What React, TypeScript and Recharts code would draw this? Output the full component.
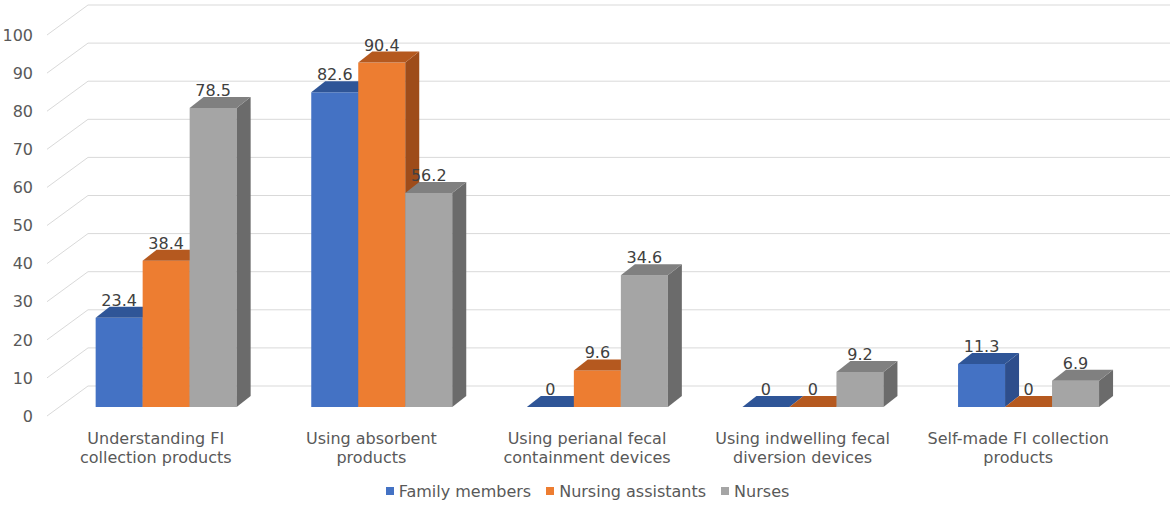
import React from 'react';
import { BarChart, Bar, XAxis, YAxis, CartesianGrid, Legend, LabelList } from 'recharts';

const categories = [
  'Understanding FI collection products',
  'Using absorbent products',
  'Using perianal fecal containment devices',
  'Using indwelling fecal diversion devices',
  'Self-made FI collection products',
];
const categoryLines = [
  ['Understanding FI', 'collection products'],
  ['Using absorbent', 'products'],
  ['Using perianal fecal', 'containment devices'],
  ['Using indwelling fecal', 'diversion devices'],
  ['Self-made FI collection', 'products'],
];
const seriesNames = ['Family members', 'Nursing assistants', 'Nurses'];
const familyMembers = [23.4, 82.6, 0, 0, 11.3];
const nursingAssistants = [38.4, 90.4, 9.6, 0, 0];
const nurses = [78.5, 56.2, 34.6, 9.2, 6.9];
const yTicks = [0, 10, 20, 30, 40, 50, 60, 70, 80, 90, 100];

const data = categories.map((name, i) => ({
  name,
  family: familyMembers[i],
  assistants: nursingAssistants[i],
  nurses: nurses[i],
}));

const FONT = '"DejaVu Sans", sans-serif';
const TEXT = '#595959';
const COLORS = ['#4472C4', '#ED7D31', '#A5A5A5'];
const DX = 14; // depth of bars
const DY = -11;

// 3D box: front face, top face, right side
const makeShape = (top: string, side: string) => (props: any) => {
  const { x, y, width, height, fill } = props;
  if (x == null || y == null) return <g />;
  const h = Math.max(0, height || 0);
  return (
    <g>
      <rect x={x} y={y} width={width} height={h} fill={fill} />
      <polygon
        points={`${x + width},${y} ${x + width + DX},${y + DY} ${x + width + DX},${y + h + DY} ${x + width},${y + h}`}
        fill={side}
      />
      <polygon
        points={`${x},${y} ${x + DX},${y + DY} ${x + width + DX},${y + DY} ${x + width},${y}`}
        fill={top}
      />
    </g>
  );
};

// back-wall gridline + diagonal on the left side wall
const gridLine = (props: any) => {
  const { x1, y1, key } = props;
  const frontX = x1 - 12;
  const backX = x1 + 29;
  return (
    <g key={key}>
      <line x1={frontX} y1={y1 + 9} x2={backX} y2={y1 - 21} stroke="#d9d9d9" strokeWidth={1} />
      <line x1={backX} y1={y1 - 21} x2={1170} y2={y1 - 21} stroke="#d9d9d9" strokeWidth={1} />
    </g>
  );
};

const YTick = (props: any) => {
  const { y, payload } = props;
  return (
    <text x={33} y={y + 9} dy="0.36em" textAnchor="end" fill={TEXT} fontSize={16} fontFamily={FONT}>
      {payload.value}
    </text>
  );
};

const XTick = (props: any) => {
  const { x, y, index } = props;
  const lines = categoryLines[index] || [];
  return (
    <g>
      {lines.map((l, i) => (
        <text key={i} x={x - 11} y={y + 29 + i * 18.5} textAnchor="middle" fill={TEXT} fontSize={16} fontFamily={FONT}>
          {l}
        </text>
      ))}
    </g>
  );
};

const LegendContent = () => (
  <div
    style={{
      display: 'flex',
      justifyContent: 'center',
      alignItems: 'center',
      height: 30,
      fontFamily: FONT,
      fontSize: 16,
      color: TEXT,
      paddingLeft: 38,
    }}
  >
    {seriesNames.map((n, i) => (
      <div key={n} style={{ display: 'flex', alignItems: 'center', marginRight: i < 2 ? 15 : 0 }}>
        <span style={{ display: 'inline-block', width: 8, height: 8, background: COLORS[i], marginRight: 5 }} />
        <span>{n}</span>
      </div>
    ))}
  </div>
);

const labelStyle = { fill: '#404040', fontSize: 16, fontFamily: FONT };

export default function App() {
  return (
    <div style={{ position: 'absolute', left: 0, top: 0, width: 1170, height: 506, background: '#fff' }}>
      <BarChart
        width={1170}
        height={506}
        data={data}
        margin={{ top: 26, right: 33, left: 0, bottom: 0 }}
        barCategoryGap="17%"
        barGap={0}
      >
        <CartesianGrid horizontal={gridLine} vertical={false} />
        <XAxis dataKey="name" axisLine={false} tickLine={false} height={69} tick={<XTick />} interval={0} />
        <YAxis
          domain={[0, 100]}
          ticks={yTicks}
          width={59}
          axisLine={false}
          tickLine={false}
          tick={<YTick />}
        />
        <Legend verticalAlign="bottom" height={30} content={<LegendContent />} />
        <Bar dataKey="family" name={seriesNames[0]} fill={COLORS[0]} shape={makeShape('#2F5597', '#2E4E8C')} isAnimationActive={false}>
          <LabelList dataKey="family" position="top" offset={12} style={labelStyle} />
        </Bar>
        <Bar dataKey="assistants" name={seriesNames[1]} fill={COLORS[1]} shape={makeShape('#B5591F', '#9E4C1A')} isAnimationActive={false}>
          <LabelList dataKey="assistants" position="top" offset={12} style={labelStyle} />
        </Bar>
        <Bar dataKey="nurses" name={seriesNames[2]} fill={COLORS[2]} shape={makeShape('#808080', '#6B6B6B')} isAnimationActive={false}>
          <LabelList dataKey="nurses" position="top" offset={12} style={labelStyle} />
        </Bar>
      </BarChart>
    </div>
  );
}
